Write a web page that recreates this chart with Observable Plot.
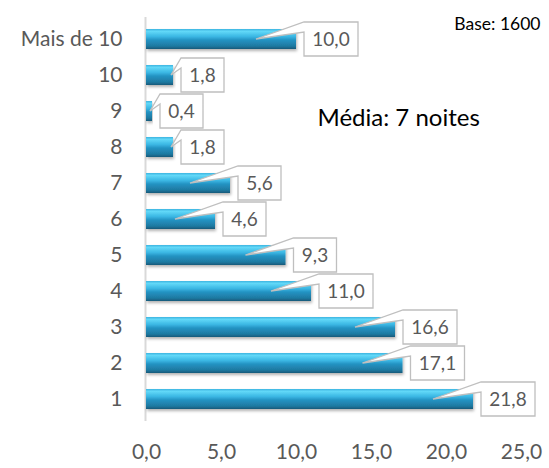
<!DOCTYPE html>
<html>
<head>
<meta charset="utf-8">
<script src="https://cdn.jsdelivr.net/npm/d3@7"></script>
<script src="https://cdn.jsdelivr.net/npm/@observablehq/plot@0.6"></script>
<style>
  html, body { margin: 0; padding: 0; background: #fff; }
  #chart svg { display: block; }
</style>
</head>
<body>
<div id="chart"></div>
<script>
// ---- data ----
const categories = ["Mais de 10", "10", "9", "8", "7", "6", "5", "4", "3", "2", "1"];
const values = [10.0, 1.8, 0.4, 1.8, 5.6, 4.6, 9.3, 11.0, 16.6, 17.1, 21.8];
const xTicks = [0, 5, 10, 15, 20, 25];
const baseText = "Base: 1600";
const meanText = "Média: 7 noites";

const data = categories.map((c, i) => ({cat: c, v: values[i]}));
const fmt = d => d.toFixed(1).replace(".", ",");

// callout mark drawn through the plot's scales
function callouts(index, scales) {
  const x = scales.x, y = scales.y;
  const bw = typeof y.bandwidth === "function" ? y.bandwidth() : y.bandwidth;
  const g = d3.create("svg:g");
  for (const d of data) {
    const end = x(d.v);
    const yc = y(d.cat) + bw / 2;
    const label = fmt(d.v);
    const w = 10 + 11 * label.length;
    const h = 34;
    const left = end + 8;
    const top = yc - h / 2;
    const tipX = (end - x(0)) > 50 ? end - 40 : end - 2;
    const tipY = yc;
    const p = d3.path();
    p.moveTo(left, top);
    p.lineTo(left + w, top);
    p.lineTo(left + w, top + h);
    p.lineTo(left, top + h);
    p.lineTo(left, top + 10);
    p.lineTo(tipX, tipY);
    p.closePath();
    g.append("path")
      .attr("d", p.toString())
      .attr("fill", "#ffffff")
      .attr("stroke", "#bfbfbf")
      .attr("stroke-width", 1.3)
      .attr("stroke-linejoin", "miter");
    g.append("text")
      .attr("x", left + w / 2)
      .attr("y", yc)
      .attr("dy", "0.36em")
      .attr("text-anchor", "middle")
      .attr("font-size", 19)
      .attr("fill", "#595959")
      .text(label);
  }
  return g.node();
}

const plot = Plot.plot({
  width: 549,
  height: 468,
  marginLeft: 146,
  marginRight: 28,
  marginTop: 17,
  marginBottom: 47,
  style: {fontFamily: "Lato, 'Open Sans', sans-serif", color: "#595959", background: "#fff"},
  x: {domain: [0, 25]},
  y: {domain: categories, paddingInner: 0.456, paddingOuter: 0.228},
  marks: [
    Plot.ruleX([0], {stroke: "#d9d9d9", strokeWidth: 2, dx: -1}),
    Plot.barX(data, {x: v => v.v, y: "cat", fill: "#2aa0cf"}),
    Plot.axisX({ticks: xTicks, tickFormat: fmt, tickSize: 0, tickPadding: 23, fontSize: 21, label: null}),
    Plot.axisY({tickSize: 0, tickPadding: 24, fontSize: 21, label: null}),
    callouts,
    Plot.text([meanText], {x: () => 11.4, y: () => "9", text: d => d, textAnchor: "start", dy: 7, fontSize: 24, fill: "#000"}),
    Plot.text([baseText], {frameAnchor: "top-right", text: d => d, dx: 19, dy: 0, fontSize: 17.5, fill: "#000"})
  ]
});

// gradient + shadow for the bevelled bars
const svg = d3.select(plot);
const defs = svg.insert("defs", ":first-child");
const grad = defs.append("linearGradient").attr("id", "barGrad")
  .attr("x1", 0).attr("y1", 0).attr("x2", 0).attr("y2", 1);
[[0, "#3cb4e0"], [0.12, "#62d8f8"], [0.38, "#3ab6e3"], [0.55, "#2493c3"], [0.85, "#1e79a1"], [1, "#16597a"]]
  .forEach(([o, c]) => grad.append("stop").attr("offset", o).attr("stop-color", c));
const f = defs.append("filter").attr("id", "barShadow").attr("x", "-5%").attr("y", "-30%").attr("width", "115%").attr("height", "180%");
f.append("feDropShadow").attr("dx", 1).attr("dy", 2).attr("stdDeviation", 1.5).attr("flood-color", "#000").attr("flood-opacity", 0.3);
svg.selectAll("g[aria-label='bar'] rect").attr("fill", "url(#barGrad)").attr("filter", "url(#barShadow)");

document.getElementById("chart").appendChild(plot);
</script>
</body>
</html>
